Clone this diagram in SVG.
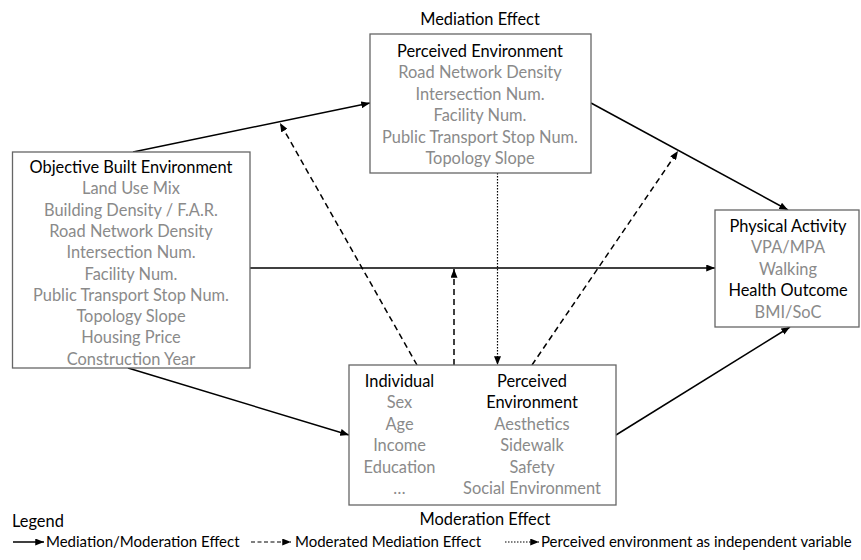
<svg xmlns="http://www.w3.org/2000/svg" width="861" height="560" viewBox="0 0 861 560">
<defs>
<marker id="ah" viewBox="0 0 10 8" refX="10" refY="4" markerWidth="9" markerHeight="7" markerUnits="userSpaceOnUse" orient="auto">
<path d="M0,0 L10,4 L0,8 Z" fill="#000"/>
</marker>
</defs>
<style>
text{font-family:Lato,"Liberation Sans",sans-serif;font-size:16.4px;text-anchor:middle}
.h{fill:#000}
.g{fill:#8a8a8a}
.box{fill:#fff;stroke:#666;stroke-width:1.3}
.c{stroke:#000;stroke-width:1.5;fill:none;marker-end:url(#ah)}
.d{stroke-dasharray:6 4}
.o{stroke-dasharray:1.5 1.5;stroke-width:1.2}
.l{text-anchor:start;font-size:15px}
</style>
<rect width="861" height="560" fill="#fff"/>
<g id="connectors">
<line class="c" x1="133" y1="152" x2="370" y2="103"/>
<line class="c" x1="591" y1="103" x2="788" y2="210"/>
<line class="c" x1="250" y1="268" x2="715" y2="268"/>
<line class="c" x1="128" y1="368" x2="349" y2="435"/>
<line class="c" x1="616" y1="435" x2="790" y2="327"/>
<line class="c d" x1="417" y1="365" x2="280" y2="123"/>
<line class="c d" x1="454" y1="365" x2="454" y2="269"/>
<line class="c o" x1="497.5" y1="173" x2="497.5" y2="365"/>
<line class="c d" x1="532" y1="365" x2="678" y2="151"/>
</g>
<g id="perceived-environment-top">
<text class="h" x="480" y="25">Mediation Effect</text>
<rect class="box" x="370" y="34" width="221" height="139"/>
<text class="h" x="480" y="57">Perceived Environment</text>
<text class="g" x="480" y="78">Road Network Density</text>
<text class="g" x="480" y="99.5">Intersection Num.</text>
<text class="g" x="480" y="121">Facility Num.</text>
<text class="g" x="480" y="142.5">Public Transport Stop Num.</text>
<text class="g" x="480" y="164">Topology Slope</text>
</g>
<g id="objective-built-environment">
<rect class="box" x="12.5" y="152" width="237.5" height="216"/>
<text class="h" x="131" y="173">Objective Built Environment</text>
<text class="g" x="131" y="194.3">Land Use Mix</text>
<text class="g" x="131" y="215.6">Building Density / F.A.R.</text>
<text class="g" x="131" y="236.9">Road Network Density</text>
<text class="g" x="131" y="258.2">Intersection Num.</text>
<text class="g" x="131" y="279.5">Facility Num.</text>
<text class="g" x="131" y="300.8">Public Transport Stop Num.</text>
<text class="g" x="131" y="322.1">Topology Slope</text>
<text class="g" x="131" y="343.4">Housing Price</text>
<text class="g" x="131" y="364.7">Construction Year</text>
</g>
<g id="physical-activity">
<rect class="box" x="715" y="210" width="144" height="117"/>
<text class="h" x="788" y="232">Physical Activity</text>
<text class="g" x="788" y="253">VPA/MPA</text>
<text class="g" x="788" y="274.5">Walking</text>
<text class="h" x="788" y="296">Health Outcome</text>
<text class="g" x="788" y="317.5">BMI/SoC</text>
</g>
<g id="moderators">
<rect class="box" x="349" y="365" width="267" height="140"/>
<text class="h" x="399.5" y="387">Individual</text>
<text class="g" x="399.5" y="408">Sex</text>
<text class="g" x="399.5" y="429.5">Age</text>
<text class="g" x="399.5" y="451">Income</text>
<text class="g" x="399.5" y="472.5">Education</text>
<text class="g" x="399.5" y="494">…</text>
<text class="h" x="532" y="387">Perceived</text>
<text class="h" x="532" y="408">Environment</text>
<text class="g" x="532" y="429.5">Aesthetics</text>
<text class="g" x="532" y="451">Sidewalk</text>
<text class="g" x="532" y="472.5">Safety</text>
<text class="g" x="532" y="494">Social Environment</text>
<text class="h" x="485" y="525">Moderation Effect</text>
</g>
<g id="legend">
<text class="h l" x="12" y="527" style="font-size:16.4px">Legend</text>
<line class="c" x1="13" y1="542" x2="44" y2="542"/>
<text class="h l" x="46" y="547">Mediation/Moderation Effect</text>
<line class="c d" x1="251" y1="542" x2="291" y2="542" style="stroke-dasharray:4 2.5;stroke-width:1.2"/>
<text class="h l" x="295" y="547">Moderated Mediation Effect</text>
<line class="c o" x1="505" y1="542" x2="539" y2="542"/>
<text class="h l" x="541" y="547">Perceived environment as independent variable</text>
</g>
</svg>
